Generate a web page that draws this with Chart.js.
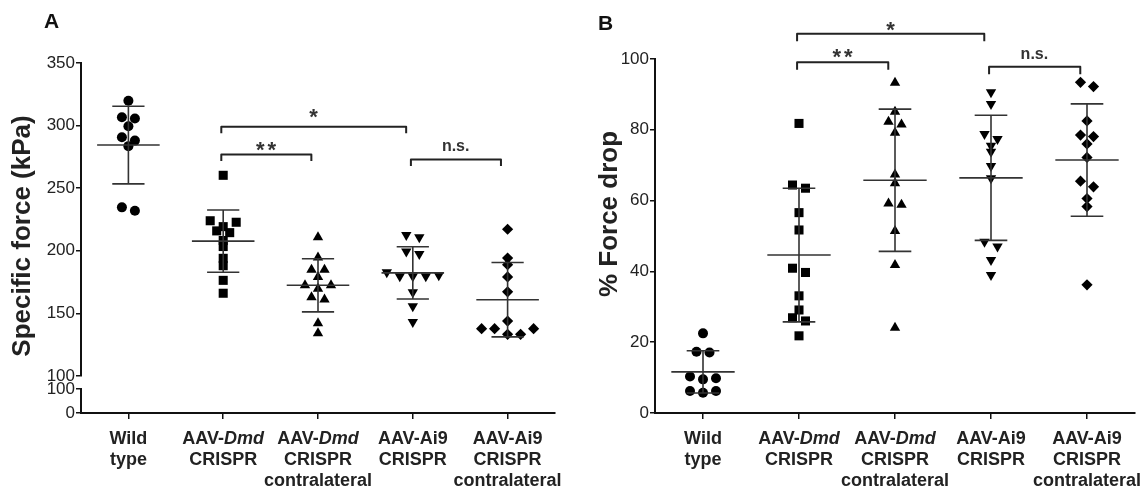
<!DOCTYPE html>
<html>
<head>
<meta charset="utf-8">
<script src="https://cdn.jsdelivr.net/npm/chart.js@4.4.1/dist/chart.umd.min.js"></script>
<style>
  html, body { margin: 0; padding: 0; background: #fff; }
  #wrap { display: flex; width: 1148px; height: 488px; }
  .panel { position: relative; width: 574px; height: 488px; }
</style>
</head>
<body>
<div id="wrap">
  <div class="panel"><canvas id="forceChart"></canvas></div>
  <div class="panel"><canvas id="dropChart"></canvas></div>
</div>
<script>
// ======================
// DATA
// ======================
const groups = [
  ["Wild", "type"],
  ["AAV-Dmd", "CRISPR"],
  ["AAV-Dmd", "CRISPR", "contralateral"],
  ["AAV-Ai9", "CRISPR"],
  ["AAV-Ai9", "CRISPR", "contralateral"]
];
const italicWord = "Dmd";

// panel A : specific force (kPa)
const forceWild = [319.8, 306.6, 305.6, 299.5, 290.7, 288.0, 283.6, 234.7, 232.0];
const forceDmd = [260.3, 224.0, 222.8, 219.3, 215.9, 214.5, 208.2, 203.4, 194.0, 188.1, 176.4, 166.1];
const forceDmdContra = [210.9, 194.7, 184.9, 184.9, 179.0, 172.5, 172.5, 169.6, 162.9, 161.1, 142.1, 134.1];
const forceAi9 = [212.7, 210.9, 199.5, 197.4, 182.8, 180.4, 179.6, 179.6, 179.6, 166.9, 155.8, 143.1];
const forceAi9Contra = [217.2, 194.2, 188.9, 179.1, 167.2, 143.9, 137.8, 137.8, 137.8, 133.3, 133.3];
const forceTicks = [100, 150, 200, 250, 300, 350];
const forceBreakTicks = [0, 100];

// panel B : % force drop
const dropWild = [22.5, 17.3, 17.1, 10.3, 9.8, 9.5, 6.2, 6.2, 5.7];
const dropDmd = [81.8, 64.4, 63.5, 56.6, 51.7, 40.9, 39.7, 33.1, 29.1, 26.9, 26.0, 21.8];
const dropDmdContra = [93.3, 85.1, 82.3, 81.5, 79.2, 67.4, 64.9, 59.2, 58.8, 51.4, 41.8, 24.1];
const dropAi9 = [90.6, 87.3, 78.8, 77.4, 75.5, 73.8, 69.8, 66.3, 48.4, 47.0, 43.2, 39.0];
const dropAi9Contra = [93.4, 92.2, 82.5, 78.5, 78.1, 76.0, 72.2, 65.5, 63.9, 60.6, 58.3, 36.2];
const dropTicks = [0, 20, 40, 60, 80, 100];

// significance brackets (group index pairs)
const pairs = [[1, 2], [1, 3], [3, 4]];
const pairLabels = ["**", "*", "n.s."];
const forcePairLevels = [277, 299, 273];
const dropPairLevels = [99.1, 107.1, 97.8];

// ======================
// STYLE
// ======================
const FONT = '"Liberation Sans", Arial, Helvetica, sans-serif';
Chart.defaults.font.family = FONT;
Chart.defaults.color = "#222";

const markers = [
  { pointStyle: "circle", pointRadius: 5, rotation: 0 },
  { pointStyle: "rect", pointRadius: 6.4, rotation: 0 },
  { pointStyle: "triangle", pointRadius: 6, rotation: 0 },
  { pointStyle: "triangle", pointRadius: 6, rotation: 180 },
  { pointStyle: "rectRot", pointRadius: 5.6, rotation: 0 }
];

function makeDatasets(series, axisId) {
  return series.map((vals, i) => ({
    label: groups[i].join(" "),
    values: vals,
    data: vals.map(v => ({ x: i, y: v })),
    yAxisID: axisId,
    pointStyle: markers[i].pointStyle,
    pointRadius: markers[i].pointRadius,
    pointHoverRadius: markers[i].pointRadius,
    rotation: markers[i].rotation,
    backgroundColor: "#000",
    borderWidth: 0
  }));
}

const axisLine = { color: "#111", width: 2 };
const axisGrid = { drawOnChartArea: false, color: "#111", lineWidth: 1.5, tickLength: 5 };

function groupAxis() {
  return {
    type: "linear",
    min: -0.5,
    max: 4.5,
    border: axisLine,
    grid: { ...axisGrid, tickLength: 6 },
    ticks: { display: false },
    afterBuildTicks: s => { s.ticks = groups.map((g, i) => ({ value: i })); },
    afterFit: s => { s.height = 75; }
  };
}

function valueAxis(min, max, tickList, extra) {
  return {
    type: "linear",
    position: "left",
    min: min,
    max: max,
    border: axisLine,
    grid: axisGrid,
    ticks: { font: { size: 17 }, padding: 1, color: "#222", autoSkip: false },
    afterBuildTicks: s => { s.ticks = tickList.map(v => ({ value: v })); },
    afterFit: s => { s.width = 81; },
    ...extra
  };
}

// ======================
// HELPERS
// ======================
function drawCentered(ctx, text, cx, cy) {
  ctx.textAlign = "left";
  ctx.textBaseline = "alphabetic";
  const m = ctx.measureText(text);
  const x = cx - (m.actualBoundingBoxRight - m.actualBoundingBoxLeft) / 2;
  const y = cy - (m.actualBoundingBoxDescent - m.actualBoundingBoxAscent) / 2;
  ctx.fillText(text, x, y);
}

function stats(vals) {
  const mean = vals.reduce((a, b) => a + b, 0) / vals.length;
  const sd = Math.sqrt(vals.reduce((a, b) => a + (b - mean) ** 2, 0) / (vals.length - 1));
  return { mean, sd };
}

// ======================
// PLUGINS
// ======================
const errorBars = {
  id: "errorBars",
  afterDatasetsDraw(chart) {
    const { ctx } = chart;
    const xs = chart.scales.x;
    ctx.save();
    ctx.strokeStyle = "#333";
    ctx.lineWidth = 1.6;
    chart.data.datasets.forEach((ds, i) => {
      const ys = chart.scales[ds.yAxisID];
      const { mean, sd } = stats(ds.values);
      const cx = xs.getPixelForValue(i);
      const meanW = xs.getPixelForValue(i + 0.33) - cx;
      const capW = xs.getPixelForValue(i + 0.17) - cx;
      const ym = ys.getPixelForValue(mean);
      const yt = ys.getPixelForValue(mean + sd);
      const yb = ys.getPixelForValue(mean - sd);
      ctx.beginPath();
      ctx.moveTo(cx - meanW, ym); ctx.lineTo(cx + meanW, ym);
      ctx.moveTo(cx, yt); ctx.lineTo(cx, yb);
      ctx.moveTo(cx - capW, yt); ctx.lineTo(cx + capW, yt);
      ctx.moveTo(cx - capW, yb); ctx.lineTo(cx + capW, yb);
      ctx.stroke();
    });
    ctx.restore();
  }
};

const brackets = {
  id: "brackets",
  afterDraw(chart, args, opts) {
    const { ctx } = chart;
    const xs = chart.scales.x;
    const ys = chart.scales[opts.axis];
    ctx.save();
    ctx.strokeStyle = "#222";
    ctx.fillStyle = "#333";
    ctx.lineWidth = 2;
    ctx.lineJoin = "round";
    pairs.forEach(([a, b], k) => {
      const x1 = xs.getPixelForValue(a - 0.02);
      const x2 = xs.getPixelForValue(b - 0.07);
      const y = ys.getPixelForValue(opts.levels[k]);
      ctx.beginPath();
      ctx.moveTo(x1, y + opts.hook);
      ctx.lineTo(x1, y);
      ctx.lineTo(x2, y);
      ctx.lineTo(x2, y + opts.hook);
      ctx.stroke();
      const isStar = pairLabels[k].startsWith("*");
      ctx.font = isStar ? "bold 22px " + FONT : "bold 16px " + FONT;
      ctx.letterSpacing = isStar ? "3px" : "0px";
      drawCentered(ctx, pairLabels[k], (x1 + x2) / 2, y - opts.lifts[k]);
    });
    ctx.restore();
  }
};

const groupLabels = {
  id: "groupLabels",
  afterDraw(chart) {
    const { ctx } = chart;
    const xs = chart.scales.x;
    const base = chart.chartArea.bottom + 30.5;
    ctx.save();
    ctx.fillStyle = "#222";
    ctx.textBaseline = "alphabetic";
    ctx.textAlign = "left";
    groups.forEach((lines, i) => {
      const cx = xs.getPixelForValue(i);
      lines.forEach((line, j) => {
        let parts = [[line, "bold"]];
        const at = line.indexOf(italicWord);
        if (at >= 0) {
          parts = [
            [line.slice(0, at), "bold"],
            [italicWord, "italic bold"],
            [line.slice(at + italicWord.length), "bold"]
          ].filter(p => p[0].length);
        }
        const widths = parts.map(p => {
          ctx.font = p[1] + " 18px " + FONT;
          return ctx.measureText(p[0]).width;
        });
        let x = cx - widths.reduce((a, b) => a + b, 0) / 2;
        parts.forEach((p, n) => {
          ctx.font = p[1] + " 18px " + FONT;
          ctx.fillText(p[0], x, base + j * 21);
          x += widths[n];
        });
      });
    });
    ctx.restore();
  }
};

const panelText = {
  id: "panelText",
  afterDraw(chart, args, opts) {
    const { ctx } = chart;
    ctx.save();
    ctx.fillStyle = "#111";
    ctx.font = "bold 21px " + FONT;
    ctx.textAlign = "left";
    ctx.textBaseline = "alphabetic";
    ctx.fillText(opts.letter, opts.letterX, opts.letterY);
    ctx.fillStyle = "#222";
    ctx.font = "bold 26px " + FONT;
    ctx.translate(opts.titleX, opts.titleY);
    ctx.rotate(-Math.PI / 2);
    ctx.textAlign = "center";
    ctx.textBaseline = "middle";
    ctx.fillText(opts.title, 0, 0);
    ctx.restore();
  }
};

// spread overlapping points sideways, GraphPad style rows
function spreadPoints(chart) {
  const xs = chart.scales.x;
  const slot = 13;
  const rowGap = 6;
  chart.data.datasets.forEach((ds, i) => {
    const ys = chart.scales[ds.yAxisID];
    const px = k => ys.getPixelForValue(ds.values[k]);
    const order = ds.values.map((v, k) => k).sort((a, b) => ds.values[b] - ds.values[a]);
    const rows = [];
    order.forEach(k => {
      const row = rows[rows.length - 1];
      if (row && px(k) - px(row[0]) < rowGap) row.push(k);
      else rows.push([k]);
    });
    const cx = xs.getPixelForValue(i);
    rows.forEach(row => {
      const n = row.length;
      const slots = [];
      for (let s = (n - 1) / 2; s > 0; s -= 1) slots.push(-s, s);
      if (n % 2) slots.push(0);
      row.forEach((k, j) => {
        ds.data[k].x = xs.getValueForPixel(cx + slots[j] * slot);
      });
    });
  });
  chart.update("none");
}

// ======================
// PANEL A
// ======================
const forceChart = new Chart(document.getElementById("forceChart"), {
  type: "scatter",
  data: {
    datasets: makeDatasets(
      [forceWild, forceDmd, forceDmdContra, forceAi9, forceAi9Contra], "y")
  },
  options: {
    responsive: true,
    maintainAspectRatio: false,
    animation: false,
    layout: { padding: { left: 0, top: 63, right: 19, bottom: 0 } },
    scales: {
      x: groupAxis(),
      yLow: valueAxis(0, 100, forceBreakTicks, { stack: "force", stackWeight: 24 }),
      yGap: {
        type: "linear",
        position: "left",
        stack: "force",
        stackWeight: 13,
        border: { display: false },
        grid: { display: false },
        ticks: { display: false },
        afterFit: s => { s.width = 81; }
      },
      y: valueAxis(100, 350, forceTicks, { stack: "force", stackWeight: 313 })
    },
    plugins: {
      legend: { display: false },
      tooltip: { enabled: false },
      brackets: { axis: "y", levels: forcePairLevels, hook: 6.5, lifts: [7.5, 13.5, 12.7] },
      panelText: { letter: "A", letterX: 44, letterY: 28, title: "Specific force (kPa)", titleX: 23, titleY: 236 }
    }
  },
  plugins: [errorBars, brackets, groupLabels, panelText]
});

// ======================
// PANEL B
// ======================
const dropChart = new Chart(document.getElementById("dropChart"), {
  type: "scatter",
  data: {
    datasets: makeDatasets(
      [dropWild, dropDmd, dropDmdContra, dropAi9, dropAi9Contra], "y")
  },
  options: {
    responsive: true,
    maintainAspectRatio: false,
    animation: false,
    layout: { padding: { left: 0, top: 59, right: 13, bottom: 0 } },
    scales: {
      x: groupAxis(),
      y: valueAxis(0, 100, dropTicks, {})
    },
    plugins: {
      legend: { display: false },
      tooltip: { enabled: false },
      brackets: { axis: "y", levels: dropPairLevels, hook: 7.5, lifts: [8.6, 7.3, 12.7] },
      panelText: { letter: "B", letterX: 24, letterY: 30, title: "% Force drop", titleX: 36, titleY: 214 }
    }
  },
  plugins: [errorBars, brackets, groupLabels, panelText]
});

spreadPoints(forceChart);
spreadPoints(dropChart);
</script>
</body>
</html>
